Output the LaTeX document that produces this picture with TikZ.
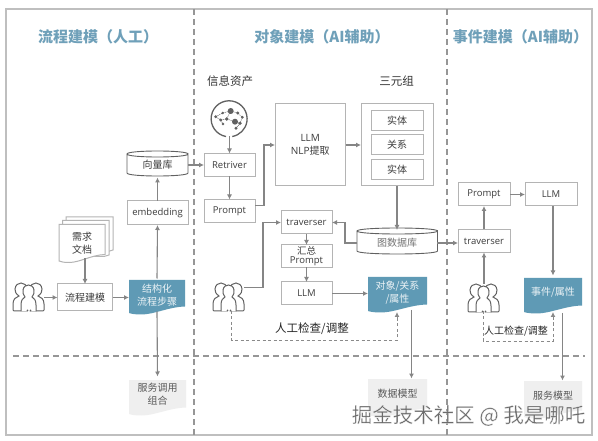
\documentclass[tikz,border=0pt]{standalone}
\usepackage{fontspec}
\setmainfont{Open Sans}
\newfontfamily\cjk{Noto Sans CJK SC}
\usetikzlibrary{arrows.meta,calc}
\definecolor{ln}{HTML}{858585}
\definecolor{bx}{HTML}{B4B4B4}
\definecolor{tx}{HTML}{3C3C3C}
\definecolor{blu}{HTML}{5F9AB5}
\definecolor{ttl}{HTML}{6FA0B9}
\definecolor{dsh}{HTML}{8A8A8A}
\definecolor{gdoc}{HTML}{EFEFEF}
\tikzset{
  x=1pt,y=-1pt,
  lbl/.style={font=\fontsize{10}{11}\selectfont\cjk,text=tx,align=center,inner sep=0pt},
  boxn/.style={draw=bx,line width=1pt,fill=white,outer sep=0pt,inner sep=0pt,align=center,text=tx,font=\fontsize{9.5}{10.5}\selectfont},
  cboxn/.style={boxn,font=\fontsize{10}{11}\selectfont\cjk},
  titlen/.style={font=\fontsize{15}{17}\selectfont\cjk\bfseries,text=ttl,inner sep=0pt},
  headn/.style={font=\fontsize{11.5}{13}\selectfont\cjk,text=black!80,inner sep=0pt},
  arr/.style={draw=ln,line width=1.1pt,-{Latex[length=5pt,width=5pt]}},
  dashln/.style={draw=dsh,line width=1pt,dash pattern=on 3pt off 2.5pt},
  dasharr/.style={dashln,-{Latex[length=5pt,width=5pt]}},
  sepln/.style={draw=dsh!90,line width=1.1pt,dash pattern=on 6pt off 4pt},
  bluelbl/.style={font=\fontsize{10}{12.5}\selectfont\cjk,text=white!88!blu,align=center,inner sep=0pt,outer sep=0pt},
  graylbl/.style={font=\fontsize{10}{12.5}\selectfont\cjk,text=tx!85,align=center,inner sep=0pt,outer sep=0pt},
  people/.pic={
    \begin{scope}[draw=black!62,line width=1pt,fill=white,line cap=round]
      \filldraw (1,28) -- (0,27) -- (0,21) .. controls (0,16) and (3,14) .. (6,13)
         .. controls (3,11) and (1.5,8) .. (2,6) .. controls (2.5,2) and (5,0) .. (8,0)
         .. controls (11,0) and (14,2) .. (14,6) -- (14,28) -- cycle;
      \filldraw (30,28) -- (31,27) -- (31,21) .. controls (31,16) and (28,14) .. (25,13)
         .. controls (28,11) and (29.5,8) .. (29,6) .. controls (28.5,2) and (26,0) .. (23,0)
         .. controls (20,0) and (17,2) .. (17,6) -- (17,28) -- cycle;
      \filldraw[fill=white] (8,28) -- (8,22) .. controls (8,17) and (10,15) .. (12,14)
         .. controls (10,12) and (9.5,9) .. (10,7) .. controls (10.5,3.5) and (13,2) .. (15.5,2)
         .. controls (18,2) and (20.5,3.5) .. (21,7) .. controls (21.5,9) and (21,12) .. (19,14)
         .. controls (21,15) and (23,17) .. (23,22) -- (23,28);
      \fill[black!62] (14.5,27.4) circle[radius=0.9pt] (17.5,27.4) circle[radius=0.9pt];
    \end{scope}
  }
}
% document shape: x1 y1 x2 y2, wavy bottom
\newcommand{\docpath}[4]{(#1,#2) -- (#3,#2) -- (#3,{#4-7.5})
  .. controls ({#3-(#3-#1)*0.3},{#4-7}) and ({#1+(#3-#1)*0.45},{#4+0.5}) .. ({#1+(#3-#1)*0.22},{#4+0.5})
  .. controls ({#1+(#3-#1)*0.12},{#4+0.5}) and ({#1+(#3-#1)*0.05},{#4}) .. (#1,{#4-1}) -- cycle}
% cylinder: x1 y1 x2 y2
\newcommand{\cylpath}[4]{
  \filldraw[draw=black!62,line width=0.9pt,fill=white] (#1,{#2+3}) -- (#1,{#4-3})
    .. controls (#1,{#4+1}) and (#3,{#4+1}) .. (#3,{#4-3}) -- (#3,{#2+3})
    .. controls (#3,{#2+7}) and (#1,{#2+7}) .. (#1,{#2+3})
    .. controls (#1,{#2-1}) and (#3,{#2-1}) .. (#3,{#2+3});}
\begin{document}
\begin{tikzpicture}
\useasboundingbox (0,0) rectangle (598,441);
\fill[white] (0,0) rectangle (598,441);
\draw[draw=black!25,line width=1.2pt] (6,9) rectangle (592,435);
\draw[sepln] (194,9) -- (194,435);
\draw[sepln] (447,9) -- (447,435);
\draw[sepln] (13,356) -- (585,356);

% titles
\node[titlen] (t1) at (98,37) {流程建模（人工）};
\node[titlen] (t2) at (322,37) {对象建模（AI辅助）};
\node[titlen] (t3) at (520.5,37) {事件建模（AI辅助）};
\node[headn] (h1) at (230,81) {信息资产};
\node[headn] (h2) at (396.5,81) {三元组};

% brain icon
\node[circle,minimum size=36pt,inner sep=0pt,outer sep=0pt] (brain) at (229.5,118.5) {};
\draw[draw=black!62,line width=1.3pt] (226,136.5) arc[start angle=-100,end angle=-440,radius=18pt] ;
\begin{scope}[draw=black!60,line width=0.5pt,dash pattern=on 1.2pt off 0.8pt]
  \draw (215.7,116.7) -- (222.7,113) -- (230.7,111) -- (237.7,113) -- (242.3,117.3) -- (240,123.3) -- (236,128.3);
  \draw (215.7,116.7) -- (220.7,120) -- (226.7,119) -- (230.7,111);
  \draw (226.7,119) -- (235,121.7) -- (240,123.3);
  \draw (220.7,120) -- (223,124);
\end{scope}
\foreach \px/\py/\r in {230.7/111/3,235/121.7/3,215.7/116.7/1.6,220.7/120/1.6,226.7/119/1.8,222.7/113/1.4,237.7/113/1.7,242.3/117.3/1.5,240/123.3/1.8,236/128.3/1.6,223/124/1.3}{
  \fill[black!62] (\px,\py) circle[radius=\r pt];
}

% left column
\cylpath{127}{151}{188}{176}
\node[lbl,minimum width=61pt,minimum height=25pt,outer sep=0pt] (vec) at (157.5,165) {向量库};
\node[boxn,minimum width=61pt,minimum height=24pt] (emb) at (157.5,213) {embedding};
\draw[draw=bx,line width=1pt,fill=white] (66,217) -- (113,217) -- (113,250) -- (108,251.5) -- (66,251.5) -- cycle;
\draw[draw=bx,line width=1pt,fill=white] (62.5,220.5) -- (109,220.5) -- (109,255) -- (104,256.5) -- (62.5,256.5) -- cycle;
\filldraw[draw=bx,line width=1pt,fill=white] \docpath{59}{224.5}{105}{262};
\node[lbl,font=\fontsize{10}{12.5}\selectfont\cjk,minimum width=46pt,minimum height=30pt,outer sep=0pt] (req) at (82,243) {需求\\文档};
\node[cboxn,minimum width=55pt,minimum height=27pt] (flow) at (85,297.5) {流程建模};
\fill[blu] \docpath{129}{280}{185}{314};
\node[bluelbl,minimum width=56pt,minimum height=33pt] (struct) at (157,295) {结构化\\流程步骤};
\fill[gdoc] \docpath{129}{380}{186}{415};
\node[graylbl,minimum width=57pt,minimum height=35pt] (svc1) at (157.5,394) {服务调用\\组合};
\path (13,283) pic (p1) {people};
\coordinate (p1e) at (44,297.5);

% middle column
\node[boxn,minimum width=51pt,minimum height=23pt] (ret) at (229.5,165) {Retriver};
\node[boxn,minimum width=51pt,minimum height=23pt] (prm) at (229.5,211) {Prompt};
\node[boxn,minimum width=70.5pt,minimum height=82pt,font=\fontsize{10}{12.5}\selectfont] (llm1) at (310.25,145) {LLM\\NLP{\cjk 提取}};
\node[boxn,minimum width=72pt,minimum height=82pt] (tri) at (397,145) {};
\node[cboxn,minimum width=52pt,minimum height=20pt] (e1) at (397,120.5) {实体};
\node[cboxn,minimum width=52pt,minimum height=20pt] (r1) at (397,144.5) {关系};
\node[cboxn,minimum width=52pt,minimum height=20pt] (e2) at (397,169.5) {实体};
\node[boxn,minimum width=51pt,minimum height=23pt] (trv) at (306.5,222.5) {traverser};
\node[boxn,minimum width=51pt,minimum height=22.5pt,font=\fontsize{9.5}{8.5}\selectfont] (sum) at (306.5,256.2) {{\cjk 汇总}\\Prompt};
\node[boxn,minimum width=51pt,minimum height=23pt] (llm2) at (306.5,293.5) {LLM};
\cylpath{357}{228}{437.5}{254}
\node[lbl,text=black!55,minimum width=80pt,minimum height=26pt,outer sep=0pt] (gdb) at (397.2,243) {图数据库};
\fill[blu] \docpath{368}{277}{427}{312};
\node[bluelbl,minimum width=59pt,minimum height=33pt,text=white!88!blu] (obj) at (397.5,292.5) {对象/关系\\/属性};
\fill[gdoc] \docpath{368}{379}{427}{416};
\node[graylbl,minimum width=59pt,minimum height=30pt] (dm) at (397.5,393.5) {数据模型};
\path (213,283) pic (p2) {people};
\coordinate (p2e) at (244,287.5);
\coordinate (p2s) at (231,311);
\node[font=\fontsize{11.5}{13}\selectfont\cjk,text=black!85,inner sep=0pt] (chk1) at (312,329) {人工检查/调整};

% right column
\node[boxn,minimum width=52pt,minimum height=23pt] (prm3) at (484,194.5) {Prompt};
\node[boxn,minimum width=52pt,minimum height=23pt] (llm3) at (551,194.5) {LLM};
\node[boxn,minimum width=52pt,minimum height=23pt] (trv3) at (484,241) {traverser};
\fill[blu] \docpath{524}{278}{582}{313};
\node[bluelbl,minimum width=58pt,minimum height=33pt] (evt) at (553,292) {事件/属性};
\fill[gdoc] \docpath{524}{381}{582}{418};
\node[graylbl,minimum width=58pt,minimum height=30pt] (sm) at (553,395.5) {服务模型};
\path (468,284) pic (p3) {people};
\coordinate (p3n) at (484,284);
\coordinate (p3s) at (483,311);
\node[font=\fontsize{10}{12}\selectfont\cjk,text=black!85,inner sep=0pt] (chk2) at (516,331) {人工检查/调整};

% connectors
\draw[arr] (emb.north) -- (vec.south);
\draw[arr] (struct.north) -- (emb.south);
\draw[arr] (struct.south) -- (svc1.north);
\draw[arr] (req.south -| flow.north) -- (flow.north);
\draw[arr] (p1e) -- (flow.west);
\draw[arr] (flow.east) -- (flow.east -| struct.west);
\draw[arr] (vec.east) -- (ret.west);
\draw[arr] (brain.south) -- (ret.north);
\draw[arr] (ret.south) -- (prm.north);
\draw[arr] (prm.east |- 0,205.5) -- (264,205.5) -- (264,145) -- (llm1.west);
\draw[arr] (llm1.east) -- (tri.west);
\draw[arr] (tri.south) -- (tri.south |- gdb.north);
\draw[arr] (gdb.west) -- (345,243) -- (345,222.5) -- (trv.east);
\draw[arr] (gdb.east) -- (gdb.east -| trv3.west);
\draw[arr] (trv.south) -- (sum.north);
\draw[arr] (sum.south) -- (llm2.north);
\draw[arr] (llm2.east) -- (llm2.east -| obj.west);
\draw[arr] (p2e) -- (263,287.5) -- (263,222.5) -- (trv.west);
\draw[arr] (411.5,310) -- (dm.north -| 411.5,0);
\draw[arr] (prm3.east) -- (llm3.west);
\draw[arr] (trv3.north) -- (prm3.south);
\draw[arr] (p3n) -- (trv3.south);
\draw[arr] (llm3.south -| 553,0) -- (evt.north);
\draw[arr] (562.5,313) -- (sm.north -| 562.5,0);
\draw[dasharr] (p2s) -- (231,340) -- (397,340) -- (397,312);
\draw[dasharr] (p3s) -- (483,341) -- (553,341) -- (553,312);

% watermark
\node[font=\fontsize{20.5}{23}\selectfont\cjk,text=black!58,inner sep=0pt] (wm) at (468.5,415.5)
  {\special{pdf:code 2 Tr 0.2 w 1 1 1 RG}掘金技术社区 @ 我是哪吒\special{pdf:code 0 Tr}};
\end{tikzpicture}
\end{document}
